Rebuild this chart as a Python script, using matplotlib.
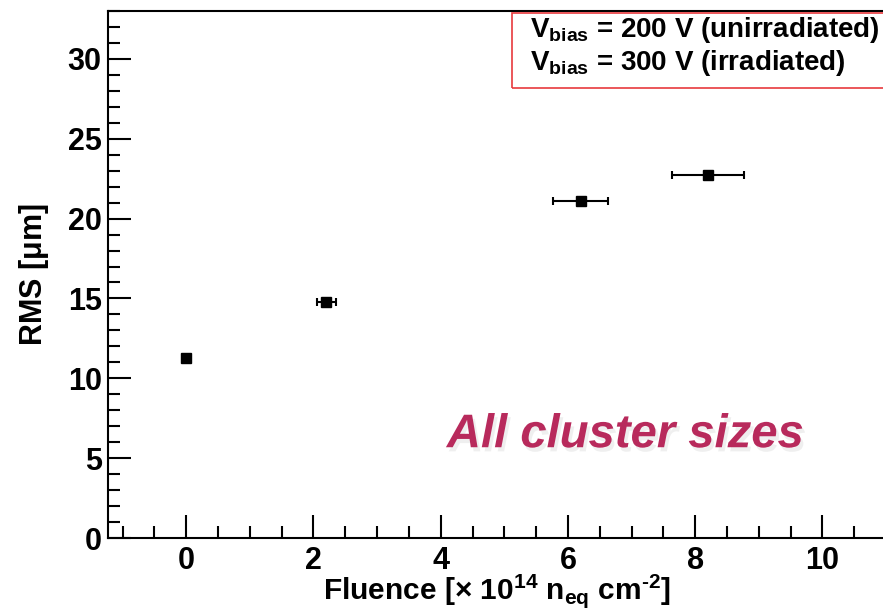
import matplotlib
matplotlib.use("Agg")
import matplotlib.pyplot as plt
import matplotlib.patheffects as pe
from matplotlib.patches import Rectangle

# RMS vs fluence, all cluster sizes
fluence = [0.0, 2.2, 6.2, 8.2]
fluence_err = [0.0, 0.15, 0.43, 0.57]
rms = [11.3, 14.8, 21.1, 22.7]
rms_err = [0.0, 0.0, 0.0, 0.0]
legend_lines = [r"V$_{\mathbf{bias}}$ = 200 V (unirradiated)",
                r"V$_{\mathbf{bias}}$ = 300 V (irradiated)"]

family = "Liberation Sans"
plt.rcParams["font.family"] = [family, "DejaVu Sans"]
plt.rcParams["font.weight"] = "bold"
plt.rcParams["mathtext.fontset"] = "custom"
plt.rcParams["mathtext.rm"] = family + ":bold"
plt.rcParams["mathtext.bf"] = family + ":bold"
plt.rcParams["mathtext.it"] = family + ":bold"
plt.rcParams["mathtext.default"] = "rm"

W, H = 883, 608
fig = plt.figure(figsize=(W / 100, H / 100), dpi=100)
ax = fig.add_axes([108 / W, 1 - 538 / H, (886 - 108) / W, (538 - 11) / H])

ax.errorbar(fluence, rms, xerr=fluence_err, yerr=rms_err, fmt="s", color="black",
            ms=7.5, elinewidth=1.5, capsize=3, capthick=1.5, zorder=3)

ax.set_xlim(-1.23, 11.0)
ax.set_ylim(0, 33)
ax.set_xticks([0, 2, 4, 6, 8, 10])
ax.set_xticks([x * 0.5 for x in range(-2, 22)], minor=True)
ax.set_yticks([0, 5, 10, 15, 20, 25, 30])
ax.set_yticks(range(0, 34), minor=True)

ax.tick_params(which="both", direction="in", width=1.5, labelsize=22)
ax.tick_params(which="major", length=16.5)
ax.tick_params(which="minor", length=8.5)
ax.tick_params(axis="y", pad=4.5)
ax.tick_params(axis="x", pad=5.5)
for s in ["left", "bottom", "top"]:
    ax.spines[s].set_linewidth(1.5)
ax.spines["right"].set_visible(False)

ax.set_xlabel(r"Fluence [$\times$ 10$^{14}$ n$_{\mathbf{eq}}$ cm$^{\text{-2}}$]",
              fontsize=21.5, fontweight="bold", va="baseline")
ax.xaxis.set_label_coords(0.5, -61 / 527)
ax.set_ylabel(r"RMS [$\mu$m]", fontsize=22, fontweight="bold", labelpad=12)

# legend box (no markers, red frame)
ax.add_patch(Rectangle((512 / W, 1 - 88 / H), 0.5, (88 - 13) / H,
                       transform=fig.transFigure, fill=False, edgecolor="#e8393d",
                       lw=1.2, clip_on=False, zorder=4))
for i, txt in enumerate(legend_lines):
    fig.text(530 / W, 1 - (30 + 33 * i) / H, txt, fontsize=20, fontweight="bold",
             va="center", ha="left")

ax.text(0.665, 0.195, "All cluster sizes", transform=ax.transAxes,
        fontsize=34, fontweight="bold", style="italic", color="#b82a5c",
        ha="center", va="center",
        path_effects=[pe.SimplePatchShadow(offset=(2, -3), shadow_rgbFace="#999999", alpha=0.15),
                      pe.Normal()])

fig.savefig("out.png", dpi=100)
